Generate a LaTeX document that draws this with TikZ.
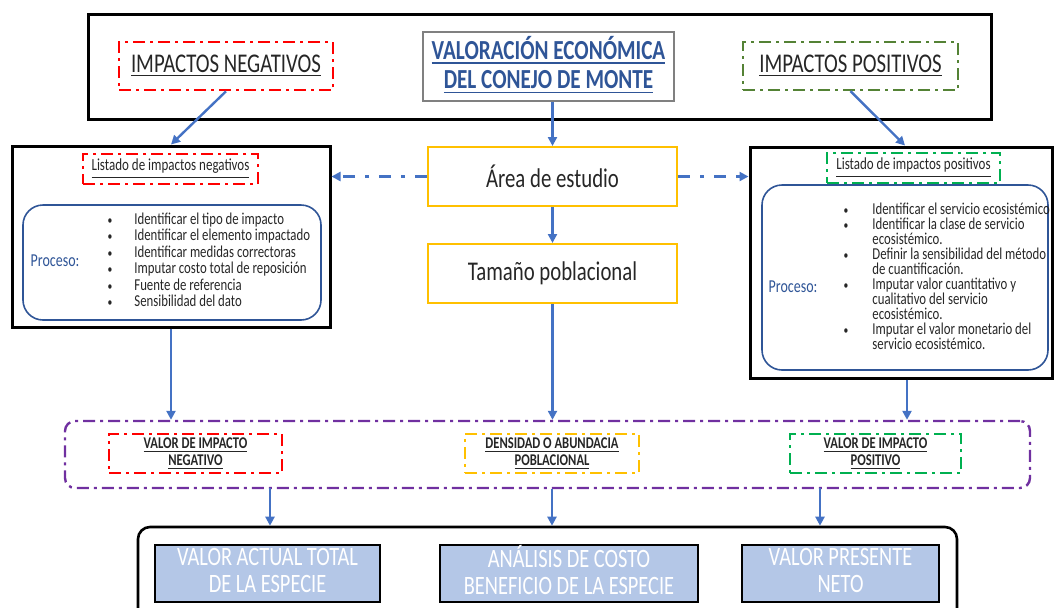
\documentclass[tikz,border=0pt]{standalone}
\usepackage{fontspec}
\usepackage{graphicx}
\setmainfont{Carlito}
\usetikzlibrary{arrows.meta}
\definecolor{txt}{HTML}{262626}
\definecolor{azul}{HTML}{4472C4}
\definecolor{azulT}{HTML}{2F5597}
\definecolor{verdeA}{HTML}{548235}
\definecolor{verdeB}{HTML}{00B050}
\definecolor{amarillo}{HTML}{FFC000}
\definecolor{morado}{HTML}{7030A0}
\definecolor{celeste}{HTML}{B4C7E7}
\newcommand{\alto}[1]{\scalebox{1}[1.3]{#1}}
\newcommand{\dos}[2]{\alto{\begin{tabular}{@{}c@{}}#1\\#2\end{tabular}}}
\newcommand{\punto}{\scalebox{0.75}{\textbullet}}

\begin{document}
\begin{tikzpicture}[x=0.5pt, y=-0.5pt, text=txt,
  every node/.style={inner sep=0pt, align=center},
  marco/.style={draw=black, line width=1.5pt},
  dd/.style={line width=1.3pt, dash pattern=on 6pt off 2.5pt on 1.5pt off 2.5pt},
  rojo/.style={dd, draw=red},
  verdeosc/.style={dd, draw=verdeA, line width=1.1pt},
  verde/.style={dd, draw=verdeB},
  amar/.style={dd, draw=amarillo},
  caja/.style={draw=amarillo, line width=1pt, font=\fontsize{10.4}{12}\selectfont},
  proceso/.style={draw=azulT, line width=0.8pt, rounded corners=10pt},
  final/.style={draw=black, line width=1.3pt, fill=celeste, text=white,
    font=\fontsize{10.2}{10.4}\selectfont},
  peq/.style={font=\fontsize{6.3}{6.4}\selectfont\bfseries},
  item/.style={font=\fontsize{6.4}{7}\selectfont},
  arr/.style={draw=azul, line width=1.2pt, -{Triangle[length=4.5pt,width=4.5pt]}},
  arrdd/.style={arr, dash pattern=on 6pt off 5pt on 2pt off 5pt}]
  \clip (0,0) rectangle (1054,607);

  % fila superior
  \node[marco, minimum width=451.5pt, minimum height=52.5pt] (top) at (539.5,66.5) {};
  \node[rojo, minimum width=107pt, minimum height=24pt, font=\fontsize{10.4}{12}\selectfont]
    (impneg) at (226,66) {\alto{\underline{IMPACTOS NEGATIVOS}}};
  \node[draw=gray, line width=0.6pt, minimum width=125.5pt, minimum height=34.5pt,
    text=azulT, font=\fontsize{10.6}{11.2}\selectfont\bfseries]
    (titulo) at (548.5,66.5) {\dos{\underline{VALORACIÓN ECONÓMICA}}{\underline{DEL CONEJO DE MONTE}}};
  \node[verdeosc, minimum width=107.5pt, minimum height=24pt, font=\fontsize{10.4}{12}\selectfont]
    (imppos) at (850.5,66) {\alto{\underline{IMPACTOS POSITIVOS}}};

  % bloque izquierdo
  \node[marco, minimum width=159pt, minimum height=90.5pt] (izq) at (171,236.5) {};
  \node[rojo, minimum width=87.5pt, minimum height=15pt, font=\fontsize{6.5}{7}\selectfont]
    (lstneg) at (170.5,169) {\alto{\underline{Listado de impactos negativos}}};
  \node[proceso, minimum width=149pt, minimum height=57.5pt] (procneg) at (172,262.5) {};
  \node[text=azulT, font=\fontsize{7}{8}\selectfont] (pneg) at (55,261) {\alto{Proceso:}};
  \foreach \t [count=\i] in {Identificar el tipo de impacto, Identificar el elemento impactado,
      Identificar medidas correctoras, Imputar costo total de reposición,
      Fuente de referencia, Sensibilidad del dato} {
    \node[item, anchor=base] (bn\i) at (110,224+16.5*\i-16.5) {\alto{\punto}};
    \node[item, anchor=base west] (ln\i) at (134,224+16.5*\i-16.5) {\alto{\t}};
  }

  % bloque central
  \node[caja, minimum width=124.5pt, minimum height=29.5pt] (area) at (552.5,176.5) {\alto{Área de estudio}};
  \node[caja, minimum width=124.5pt, minimum height=29.5pt] (tamano) at (552.5,273.5) {\alto{Tamaño poblacional}};

  % bloque derecho
  \node[marco, minimum width=151pt, minimum height=115.5pt] (der) at (901,262.5) {};
  \node[verde, minimum width=86.5pt, minimum height=15pt, font=\fontsize{6.5}{7}\selectfont]
    (lstpos) at (913.5,168) {\alto{\underline{Listado de impactos positivos}}};
  \node[proceso, minimum width=143pt, minimum height=92.5pt] (procpos) at (905,277.5) {};
  \node[text=azulT, font=\fontsize{7}{8}\selectfont] (ppos) at (793,287) {\alto{Proceso:}};
  \foreach \t/\b [count=\i] in {Identificar el servicio ecosistémico/1,
      Identificar la clase de servicio/1, ecosistémico./0,
      Definir la sensibilidad del método/1, de cuantificación./0,
      Imputar valor cuantitativo y/1, cualitativo del servicio/0, ecosistémico./0,
      Imputar el valor monetario del/1, servicio ecosistémico./0} {
    \ifnum\b=1
      \node[item, anchor=base] (bp\i) at (846,214+15*\i-15) {\alto{\punto}};
    \fi
    \node[item, anchor=base west] (lp\i) at (872,214+15*\i-15) {\alto{\t}};
  }

  % franja de valores
  \node[dd, draw=morado, line width=1.2pt, rounded corners=5pt, minimum width=482.5pt,
    minimum height=33.5pt] (franja) at (547.5,454.5) {};
  \node[rojo, peq, minimum width=86.5pt, minimum height=19.5pt]
    (valneg) at (195.5,453.5) {\dos{\underline{VALOR DE IMPACTO}}{\underline{NEGATIVO}}};
  \node[amar, peq, minimum width=87pt, minimum height=19.5pt]
    (dens) at (552,453.5) {\dos{\underline{DENSIDAD O ABUNDACIA}}{\underline{POBLACIONAL}}};
  \node[verde, peq, minimum width=85.5pt, minimum height=19.5pt]
    (valpos) at (875.5,453.5) {\dos{\underline{VALOR DE IMPACTO}}{\underline{POSITIVO}}};

  % resultados
  \node[marco, line width=1.3pt, rounded corners=6pt, minimum width=409.5pt,
    minimum height=56.5pt] (abajo) at (547.5,583.5) {};
  \node[final, minimum width=112.5pt, minimum height=28.5pt]
    (vat) at (267.5,573.5) {\dos{VALOR ACTUAL TOTAL}{DE LA ESPECIE}};
  \node[final, minimum width=129pt, minimum height=28.5pt]
    (acb) at (569,573.5) {\dos{ANÁLISIS DE COSTO}{BENEFICIO DE LA ESPECIE}};
  \node[final, minimum width=98.5pt, minimum height=28.5pt]
    (vpn) at (840.5,573.5) {\dos{VALOR PRESENTE}{NETO}};

  % conectores
  \draw[arr] (impneg.south) -- (izq.north);
  \draw[arr] (titulo.south -| area.north) -- (area.north);
  \draw[arr] (imppos.south) -- ([xshift=2pt]der.north);
  \draw[arrdd] (area.west) -- (area.west -| izq.east);
  \draw[arrdd] (area.east) -- (area.east -| der.west);
  \draw[arr] (area.south) -- (tamano.north);
  \draw[arr] (izq.south) -- (izq.south |- franja.north);
  \draw[arr] (tamano.south) -- (tamano.south |- franja.north);
  \draw[arr] ([xshift=3pt]der.south) -- ([xshift=3pt]der.south |- franja.north);
  \coordinate (s1) at (270,488);
  \coordinate (s3) at (820,488);
  \draw[arr] (s1) -- (s1 |- abajo.north);
  \draw[arr] (dens.south |- franja.south) -- (dens.south |- abajo.north);
  \draw[arr] (s3) -- (s3 |- abajo.north);
\end{tikzpicture}
\end{document}
